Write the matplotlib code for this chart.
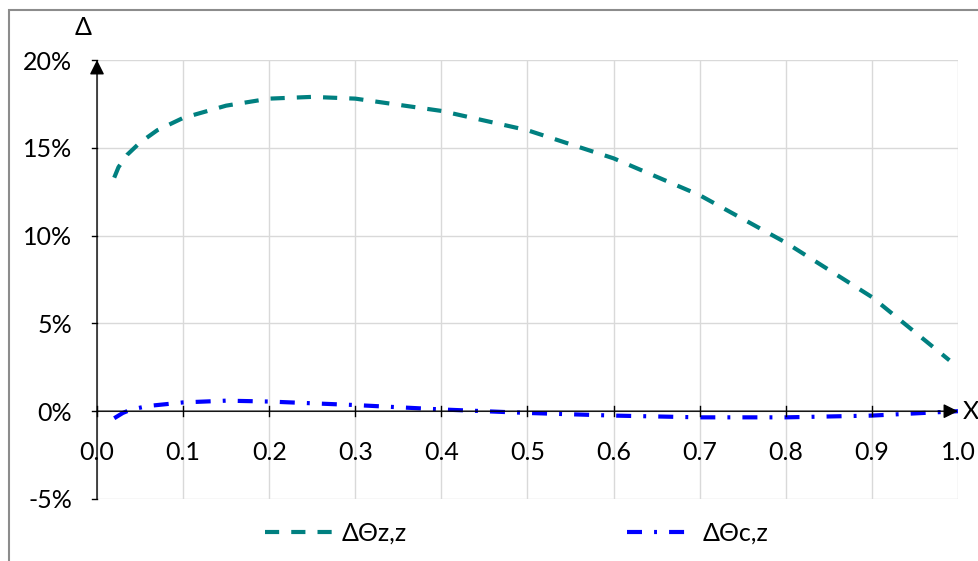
import numpy as np
import matplotlib.pyplot as plt
from matplotlib.patches import Rectangle

# values (percent)
x_zz = [0.02, 0.025, 0.035, 0.05, 0.07, 0.1, 0.15, 0.2, 0.25, 0.3, 0.4, 0.5, 0.6, 0.7, 0.8, 0.9, 0.99]
theta_zz = [13.3, 13.9, 14.6, 15.3, 16.0, 16.7, 17.4, 17.8, 17.9, 17.8, 17.1, 16.0, 14.4, 12.3, 9.6, 6.5, 2.9]

x_cz = [0.02, 0.03, 0.04, 0.06, 0.1, 0.15, 0.2, 0.3, 0.4, 0.5, 0.6, 0.7, 0.8, 0.9, 1.0]
theta_cz = [-0.4, -0.1, 0.1, 0.3, 0.5, 0.6, 0.55, 0.35, 0.1, -0.1, -0.25, -0.35, -0.35, -0.25, 0.0]

x_ticks = [0.0, 0.1, 0.2, 0.3, 0.4, 0.5, 0.6, 0.7, 0.8, 0.9, 1.0]
y_ticks = [-5, 0, 5, 10, 15, 20]

plt.rcParams['font.family'] = ['Lato', 'DejaVu Sans']
FS = 18

W, H = 979, 561
fig = plt.figure(figsize=(W / 100, H / 100), dpi=100)
fig.patches.append(Rectangle((9 / W, -0.1), 1.2, 1 - 10 / H + 0.1, transform=fig.transFigure,
                             fill=False, edgecolor='#8c8c8c', lw=1.5))

ax = fig.add_axes([97 / W, 1 - 499 / H, (958 - 97) / W, (499 - 60) / H])
ax.set_xlim(0, 1)
ax.set_ylim(-5, 20)

ax.plot(x_zz, theta_zz, color='#008080', lw=3, ls=(0, (3.4, 2.9)), label='ΔΘz,z')
ax.plot(x_cz, theta_cz, color='#0000ff', lw=3, ls=(0, (3.6, 2.9, 0.7, 2.9)), label='ΔΘc,z')

for s in ax.spines.values():
    s.set_visible(False)
ax.set_xticks(x_ticks)
ax.set_yticks(y_ticks)
ax.grid(True, color='#d9d9d9', lw=1)
ax.set_axisbelow(True)
ax.set_yticklabels([f'{v}%' for v in y_ticks], fontsize=FS)
ax.set_xticklabels([])
ax.tick_params(axis='y', length=0, pad=18)
ax.tick_params(axis='x', length=0)
for xv in x_ticks:
    ax.text(xv, -2.35, f'{xv:.1f}', ha='center', va='center', fontsize=FS)

# axes with arrows, excel style
ax.annotate('', xy=(0, 20), xytext=(0, -5), annotation_clip=False,
            arrowprops=dict(arrowstyle='-|>', color='k', lw=1, mutation_scale=22, shrinkA=0, shrinkB=0))
ax.annotate('', xy=(1, 0), xytext=(0, 0), annotation_clip=False,
            arrowprops=dict(arrowstyle='-|>', color='k', lw=1, mutation_scale=22, shrinkA=0, shrinkB=0))
for yv in y_ticks:
    ax.plot([-0.006, 0], [yv, yv], color='k', lw=1, clip_on=False)
for xv in x_ticks[:-1]:
    ax.plot([xv, xv], [-0.3, 0.3], color='k', lw=1, clip_on=False)

ax.text(-0.016, 21.2, 'Δ', ha='center', va='bottom', fontsize=FS)
ax.text(1.005, 0, 'X', ha='left', va='center', fontsize=FS)

ax.legend(loc='center', bbox_to_anchor=(0.488, -0.077), ncol=2, frameon=False,
          handlelength=2.7, handletextpad=0.35, columnspacing=8.8, fontsize=FS)

fig.savefig('out.png', dpi=100)
